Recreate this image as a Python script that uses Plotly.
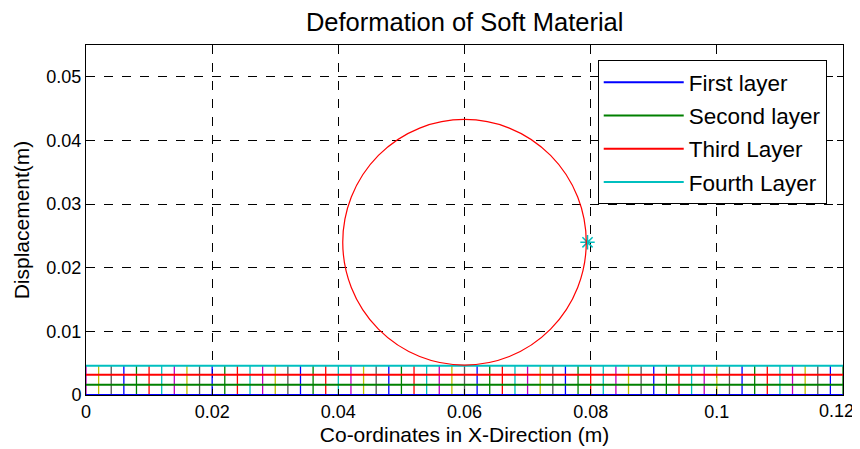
import plotly.graph_objects as go

# ---- data ----
node_x = [0.000, 0.002, 0.004, 0.006, 0.008, 0.010, 0.012, 0.014, 0.016, 0.018,
          0.020, 0.022, 0.024, 0.026, 0.028, 0.030, 0.032, 0.034, 0.036, 0.038,
          0.040, 0.042, 0.044, 0.046, 0.048, 0.050, 0.052, 0.054, 0.056, 0.058,
          0.060, 0.062, 0.064, 0.066, 0.068, 0.070, 0.072, 0.074, 0.076, 0.078,
          0.080, 0.082, 0.084, 0.086, 0.088, 0.090, 0.092, 0.094, 0.096, 0.098,
          0.100, 0.102, 0.104, 0.106, 0.108, 0.110, 0.112, 0.114, 0.116, 0.118,
          0.120]
layer_names = ["First layer", "Second layer", "Third Layer", "Fourth Layer"]
layer_y = [0.0, 0.0016, 0.0032, 0.0046]
layer_colors = ["#0000FF", "#008000", "#FF0000", "#00BFBF"]
column_colors = ["#BF00BF", "#BFBF00", "#555555", "#0000FF", "#008000", "#FF0000", "#00BFBF"]

circle_cx = 0.060
circle_cy = 0.0240
circle_r = 0.0193
star_x = [0.0795]
star_y = [0.0240]

x_ticks = [0, 0.02, 0.04, 0.06, 0.08, 0.1, 0.12]
x_ticklabels = ["0", "0.02", "0.04", "0.06", "0.08", "0.1", "0.12"]
y_ticks = [0, 0.01, 0.02, 0.03, 0.04, 0.05]
y_ticklabels = ["0", "0.01", "0.02", "0.03", "0.04", "0.05"]

FONT = "Liberation Sans, Arial, Helvetica, sans-serif"

fig = go.Figure()

# vertical element lines, grouped by colour
for ci, col in enumerate(column_colors):
    xs, ys = [], []
    for i, x in enumerate(node_x):
        if i % len(column_colors) == ci:
            xs += [x, x, None]
            ys += [layer_y[0], layer_y[-1], None]
    fig.add_trace(go.Scatter(x=xs, y=ys, mode="lines", showlegend=False,
                             line=dict(color=col, width=1.3), hoverinfo="skip"))

# horizontal layer lines
for name, yv, col in zip(layer_names, layer_y, layer_colors):
    fig.add_trace(go.Scatter(x=[node_x[0], node_x[-1]], y=[yv, yv], mode="lines",
                             name=name, legendgroup=name,
                             line=dict(color=col, width=2)))

# marker
fig.add_trace(go.Scatter(x=star_x, y=star_y, mode="markers", showlegend=False,
                         marker=dict(symbol="asterisk-open", size=12, color="#00BFBF",
                                     line=dict(color="#00BFBF", width=1.5))))

# deformed circle
fig.add_shape(type="circle", xref="x", yref="y",
              x0=circle_cx - circle_r, x1=circle_cx + circle_r,
              y0=circle_cy - circle_r, y1=circle_cy + circle_r,
              line=dict(color="#FF0000", width=1.2))

# last x tick label drawn as an annotation nudged left so it is not clipped at the edge
fig.add_annotation(x=x_ticks[-1], y=0, xref="x", yref="paper", text=x_ticklabels[-1],
                   showarrow=False, xanchor="center", yanchor="top", xshift=-7, yshift=-4,
                   font=dict(family=FONT, size=18, color="black"))

axis_common = dict(showline=True, linecolor="black", linewidth=1, mirror="allticks",
                   ticks="inside", ticklen=6, tickcolor="black", automargin=False,
                   showgrid=True, gridcolor="black", gridwidth=0.7, griddash="dash",
                   zeroline=False, tickfont=dict(family=FONT, size=18, color="black"))

# page body has an 8px margin, so the figure is sized to fit inside the window
fig.update_layout(
    width=852, height=441,
    margin=dict(l=78, r=17, t=37, b=54),
    paper_bgcolor="white", plot_bgcolor="white",
    title=dict(text="Deformation of Soft Material", x=0.536, xanchor="center",
               y=0.968, yanchor="middle",
               font=dict(family=FONT, size=25.5, color="black")),
    xaxis=dict(range=[0, 0.12], tickvals=x_ticks, ticktext=x_ticklabels[:-1] + [""],
               title=dict(text="Co-ordinates in X-Direction (m)", standoff=6,
                          font=dict(family=FONT, size=21, color="black")),
               **axis_common),
    yaxis=dict(range=[0, 0.055], tickvals=y_ticks, ticktext=y_ticklabels,
               title=dict(text="Displacement(m)", standoff=11,
                          font=dict(family=FONT, size=21, color="black")),
               **axis_common),
    legend=dict(x=0.676, y=0.957, xanchor="left", yanchor="top",
                bgcolor="white", bordercolor="black", borderwidth=1,
                font=dict(family=FONT, size=22.5, color="black"),
                tracegroupgap=1, itemwidth=80),
    showlegend=True,
)

fig.write_html("out.html")
